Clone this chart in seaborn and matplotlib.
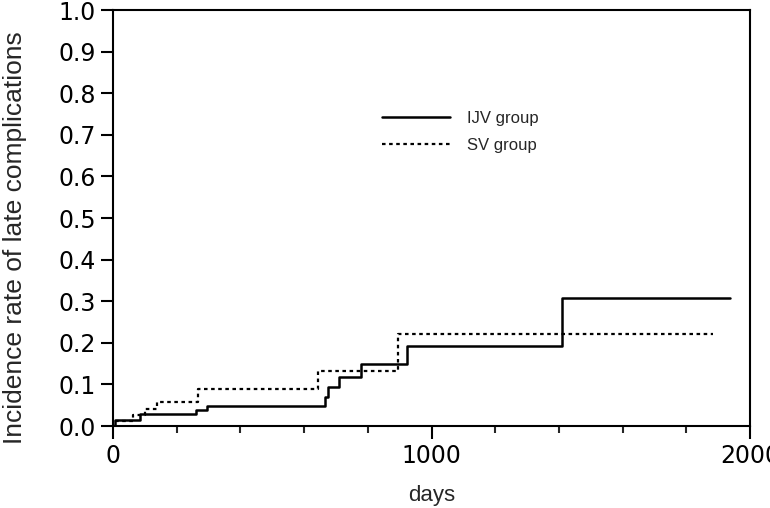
import numpy as np
import pandas as pd
import matplotlib
matplotlib.use("Agg")
import matplotlib.pyplot as plt
import seaborn as sns

# step points: event day, cumulative incidence after it
ijv_days = [0, 5, 85, 261, 294, 666, 676, 711, 779, 922, 1409, 1937]
ijv_rate = [0, 0.014, 0.028, 0.038, 0.047, 0.070, 0.094, 0.118, 0.149, 0.192, 0.307, 0.307]

sv_days = [0, 10, 64, 102, 139, 268, 645, 896, 1884]
sv_rate = [0, 0.011, 0.026, 0.041, 0.057, 0.090, 0.133, 0.221, 0.221]

y_ticks = np.round(np.arange(0, 1.01, 0.1), 1)
x_major = [0, 1000, 2000]
x_minor = list(range(0, 2001, 200))

sns.set_style("ticks")
plt.rcParams["font.family"] = ["DejaVu Sans"]

fig = plt.figure(figsize=(7.7, 5.08), dpi=100)
ax = fig.add_axes([113 / 770, 1 - 426 / 508, 637 / 770, 416 / 508])

ijv = pd.DataFrame({"days": ijv_days, "rate": ijv_rate})
sv = pd.DataFrame({"days": sv_days, "rate": sv_rate})

sns.lineplot(data=ijv, x="days", y="rate", ax=ax, color="black", lw=1.8,
             drawstyle="steps-post", label="IJV group", estimator=None)
sns.lineplot(data=sv, x="days", y="rate", ax=ax, color="black", lw=1.6,
             drawstyle="steps-post", label="SV group", estimator=None,
             linestyle=(0, (1.6, 1.6)))

ax.set_xlim(0, 2000)
ax.set_ylim(0, 1.0)
ax.set_xticks(x_major)
ax.set_xticks(x_minor, minor=True)
ax.set_yticks(y_ticks)
ax.set_yticklabels([f"{v:.1f}" for v in y_ticks])
ax.tick_params(axis="both", which="major", labelsize=17, width=1.5,
               length=9, direction="out", colors="black")
ax.tick_params(axis="x", which="minor", width=1.5, length=5, direction="out")
ax.tick_params(axis="x", which="major", pad=4)

for sp in ax.spines.values():
    sp.set_visible(True)
    sp.set_linewidth(1.5)
    sp.set_color("black")

ax.set_xlabel("days", fontsize=16, family="Liberation Sans", labelpad=12)
ax.set_ylabel("Incidence rate of late complications", fontsize=19,
              family="Liberation Sans")
ax.yaxis.set_label_coords(-0.135, 0.452)

leg = ax.legend(loc="upper left", bbox_to_anchor=(0.422, 0.757), frameon=False,
                borderaxespad=0, borderpad=0, handlelength=4.1,
                handletextpad=1.0, labelspacing=0.7,
                prop={"family": "Liberation Sans", "size": 12})

fig.savefig("out.png", dpi=100)
